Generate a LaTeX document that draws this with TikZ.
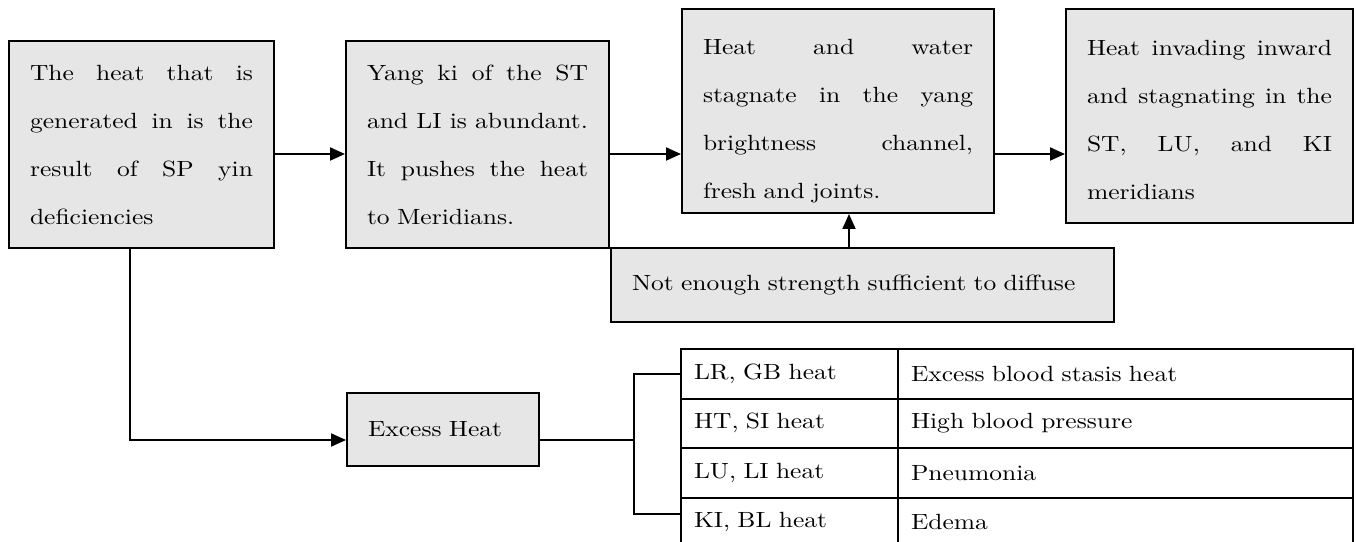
\documentclass[tikz,border=0pt]{standalone}
\usepackage{fontspec}
\setmainfont{lmroman10-regular.otf}[FakeStretch=1.16]
\usepackage{xcolor}
\definecolor{boxfill}{HTML}{E6E6E6}
\usetikzlibrary{arrows.meta}
\newcommand{\fillline}[1]{\hbox to \hsize{\spaceskip=0.3em plus 1fil\relax #1}\par}
\newcommand{\lastline}[1]{\hbox{#1}\par}

\begin{document}
\begin{tikzpicture}[x=1pt,y=1pt,>={Triangle[length=15pt,width=13pt]},line width=2pt,
  every node/.style={font=\fontsize{22}{48}\selectfont},
  stagebox/.style={draw,fill=boxfill,rectangle,inner xsep=21pt,inner ysep=0pt,align=left},
  cell/.style={draw,rectangle,inner xsep=13pt,inner ysep=0pt,minimum height=49.5pt,align=left}]
\useasboundingbox (0,0) rectangle (1356,541);
% main chain
\node[stagebox,text width=223pt,minimum height=207pt] (A) at (141.5,396.5) {\fillline{The heat that is}\fillline{generated in is the}\fillline{result of SP yin}\lastline{deficiencies}};
\node[stagebox,text width=221pt,minimum height=207pt] (B) at (477.5,396.5) {\fillline{Yang ki of the ST}\fillline{and LI is abundant.}\fillline{It pushes the heat}\lastline{to Meridians.}};
\node[stagebox,text width=270pt,minimum height=204pt] (C) at (838,430) {\fillline{\rule{0pt}{36pt}Heat and water}\fillline{stagnate in the yang}\fillline{brightness channel,}\lastline{fresh and joints.}};
\node[stagebox,text width=245pt,minimum height=214pt] (D) at (1209.5,425) {\fillline{\rule{0pt}{24pt}Heat invading inward}\fillline{and stagnating in the}\fillline{ST, LU, and KI}\lastline{meridians}};
\node[stagebox,text width=461pt,minimum height=74pt] (N) at (862.5,256) {Not enough strength sufficient to diffuse};
\node[stagebox,text width=150pt,minimum height=73pt] (E) at (443,111.5) {Excess Heat};
% table of organs
\node[cell,text width=191pt] (r1a) at (789.5,167.25) {LR, GB heat};
\node[cell,text width=429pt] (r1b) at (1125.5,167.25) {Excess blood stasis heat};
\node[cell,text width=191pt] (r2a) at (789.5,117.75) {HT, SI heat};
\node[cell,text width=429pt] (r2b) at (1125.5,117.75) {High blood pressure};
\node[cell,text width=191pt] (r3a) at (789.5,68.25) {LU, LI heat};
\node[cell,text width=429pt] (r3b) at (1125.5,68.25) {Pneumonia};
\node[cell,text width=191pt] (r4a) at (789.5,18.75) {KI, BL heat};
\node[cell,text width=429pt] (r4b) at (1125.5,18.75) {Edema};
\coordinate (flow) at (0,387);
\coordinate (brk) at (634,101);
\draw[->] (A.east |- flow) -- (B.west |- flow);
\draw[->] (B.east |- flow) -- (C.west |- flow);
\draw[->] (C.east |- flow) -- (D.west |- flow);
\draw[->] ([xshift=-13.5pt]N.north) -- ([xshift=-13.5pt]N.north |- C.south);
\draw[->] ([xshift=-11.5pt]A.south) |- ([yshift=-10.5pt]E.west);
\draw ([yshift=-10.5pt]E.east) -- (brk);
\draw (r1a.west) -| (brk) |- ([yshift=8pt]r4a.west);
\end{tikzpicture}
\end{document}
